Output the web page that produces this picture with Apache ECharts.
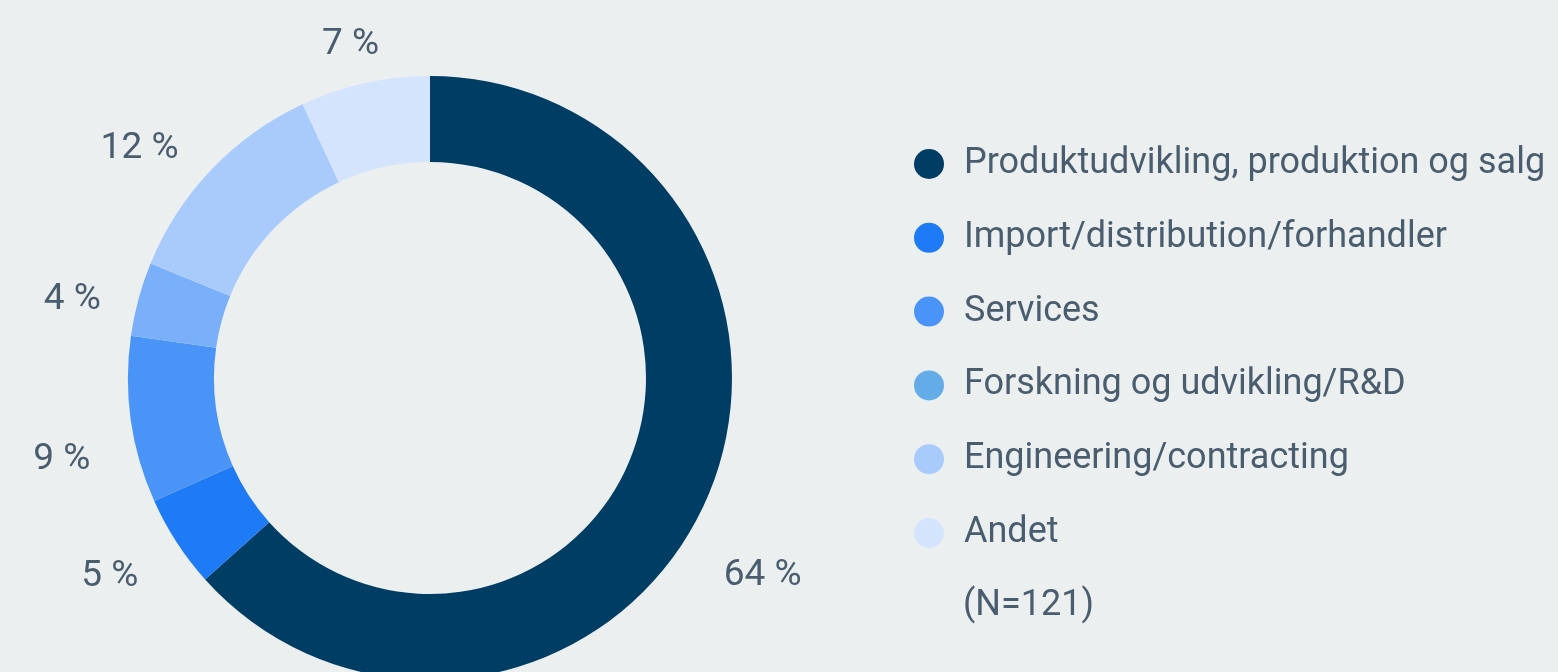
<!DOCTYPE html>
<html>
<head>
<meta charset="utf-8">
<script src="https://cdn.jsdelivr.net/npm/echarts@6/dist/echarts.min.js"></script>
<style>
html,body{margin:0;padding:0;background:#ebeff0;}
#c{width:1558px;height:672px;}
</style>
</head>
<body>
<div id="c"></div>
<script>
const categories = ["Produktudvikling, produktion og salg","Import/distribution/forhandler","Services","Forskning og udvikling/R&D","Engineering/contracting","Andet"];
const values = [64, 5, 9, 4, 12, 7];
const sliceColors = ["#003d64","#1e7bf5","#4a94f8","#7ab0f9","#a8cbfc","#d3e4fc"];
const legendColors = ["#003d64","#1e7bf5","#4a94f8","#64ace8","#a8cbfc","#d3e4fc"];
const noteText = "(N=121)";

// label nudges (layout tweaks, not data)
const labelNudge = [[-20,60],[-3,15],[0,35],[2,10],[-2,4],[27,-3]];

const textColor = "#4a5d6e";
const fontFam = "Roboto, 'Open Sans', sans-serif";

const chart = echarts.init(document.getElementById('c'), null, {renderer:'canvas'});
chart.setOption({
  backgroundColor: '#ebeff0',
  animation: false,
  title: {
    text: noteText,
    left: 958, top: 583,
    textStyle: {color: textColor, fontSize: 36, fontWeight: 'normal', fontFamily: fontFam}
  },
  legend: {
    orient: 'vertical',
    left: 909, top: 141,
    icon: 'circle',
    itemWidth: 30, itemHeight: 30,
    itemGap: 37.8,
    data: categories.map((n,i)=>({name:n, itemStyle:{color: legendColors[i]}})),
    textStyle: {color: textColor, fontSize: 36, fontFamily: fontFam, lineHeight: 30, padding:[0,0,0,15]}
  },
  series: [{
    type: 'pie',
    center: [430, 378],
    radius: [216, 302],
    startAngle: 90,
    clockwise: true,
    avoidLabelOverlap: false,
    data: categories.map((n,i)=>({name:n, value: values[i], itemStyle:{color: sliceColors[i]}})),
    label: {
      show: true,
      position: 'outside',
      formatter: '{c} %',
      color: textColor,
      fontSize: 37,
      fontFamily: fontFam,
      distanceToLabelLine: 5
    },
    labelLine: {show: false, length: 36, length2: 0},
    labelLayout: function (p) {
      const n = labelNudge[p.dataIndex];
      return {dx: n[0], dy: n[1]};
    },
    emphasis: {disabled: true}
  }]
});
</script>
</body>
</html>
